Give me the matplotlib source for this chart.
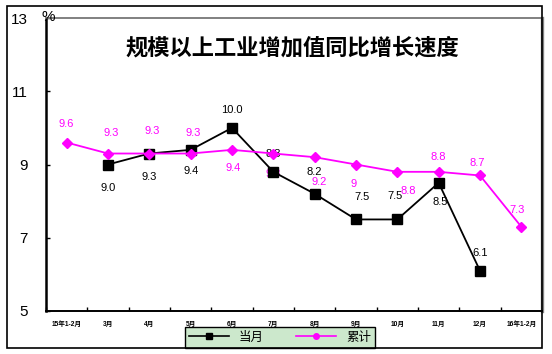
import matplotlib
matplotlib.use('Agg')
import matplotlib.pyplot as plt
import numpy as np
from matplotlib.lines import Line2D
from matplotlib.patches import Rectangle

plt.rcParams['font.family'] = ['Liberation Sans', 'Noto Sans CJK SC', 'DejaVu Sans']

months = ['15年1-2月', '3月', '4月', '5月', '6月', '7月', '8月', '9月',
          '10月', '11月', '12月', '16年1-2月']
dangyue = [np.nan, 9.0, 9.3, 9.4, 10.0, 8.8, 8.2, 7.5, 7.5, 8.5, 6.1, np.nan]
leiji = [9.6, 9.3, 9.3, 9.3, 9.4, 9.3, 9.2, 9.0, 8.8, 8.8, 8.7, 7.3]

# where each label sits relative to its point (offset points)
dy_off = [None, (0, -17), (0, -17), (0, -15), (0, 13), (0, 13), (0, 16),
          (4, 16), (-2, 17), (1, -14), (0, 13), None]
lj_off = [(0, 13), (2, 15), (2, 16), (2, 15), (1, -13), (0, -15), (3, -18),
          (-2, -14), (8, -14), (0, 11), (-2, 9), (-3, 12)]

fig = plt.figure(figsize=(5.52, 3.54), dpi=100)
ax = fig.add_axes([46/552, 1-311/354, (542-46)/552, (311-18)/354])

x = np.arange(len(months))
ax.plot(x, dangyue, color='black', lw=1.3, marker='s', ms=6.5, zorder=3)
ax.plot(x, leiji, color='#FF00FF', lw=1.3, marker='D', ms=5, zorder=4)

for i in range(len(months)):
    if dy_off[i] is not None:
        ax.annotate('{:.1f}'.format(dangyue[i]), (x[i], dangyue[i]), xytext=dy_off[i],
                    textcoords='offset points', ha='center', va='center',
                    fontsize=8, color='black', zorder=2)
    ax.annotate('{:g}'.format(leiji[i]), (x[i], leiji[i]), xytext=lj_off[i],
                textcoords='offset points', ha='center', va='center',
                fontsize=8, color='#FF00FF', zorder=2)

ax.set_xlim(-0.5, len(months)-0.5)
ax.set_ylim(5, 13)
ax.set_yticks([5, 7, 9, 11, 13])
ax.tick_params(axis='y', direction='in', length=3, width=1, pad=13, labelsize=11)
ax.set_xticks(np.arange(-0.5, len(months), 1.0))
ax.set_xticklabels([])
ax.set_xticks(x, minor=True)
ax.set_xticklabels(months, minor=True, fontsize=4.8, fontweight='bold')
ax.tick_params(axis='x', which='major', direction='in', length=3, width=1)
ax.tick_params(axis='x', which='minor', length=0, pad=7)

ax.spines['left'].set_linewidth(1.8)
ax.spines['bottom'].set_linewidth(1.4)
ax.spines['top'].set_color('#808080')
ax.spines['top'].set_linewidth(1.4)
ax.spines['right'].set_color('#808080')
ax.spines['right'].set_linewidth(2.4)

fig.text(48/552, 1-17/354, '%', fontsize=11, ha='center', va='center')
fig.text(292/552, 1-48/354, '规模以上工业增加值同比增长速度', fontsize=16,
         fontweight='bold', ha='center', va='center',
         family=['Noto Sans CJK SC', 'DejaVu Sans'])

handles = [Line2D([], [], color='black', lw=1.2, marker='s', ms=5),
           Line2D([], [], color='#FF00FF', lw=1.2, marker='o', ms=4)]
leg = fig.legend(handles, ['当月', '累计'], ncol=2, loc='upper left',
                 bbox_to_anchor=(185/552, 1-327/354), borderaxespad=0,
                 handlelength=3.2, columnspacing=2.6,
                 borderpad=0.3, fancybox=False, framealpha=1,
                 prop={'family': ['Noto Sans CJK SC', 'DejaVu Sans'], 'size': 9})
leg.get_frame().set_facecolor('#CCE8CC')
leg.get_frame().set_edgecolor('black')
leg.get_frame().set_linewidth(1.0)

fig.add_artist(Rectangle((7/552, 6/354), (542-7)/552, (348-6)/354,
                         transform=fig.transFigure, fill=True, facecolor='white',
                         edgecolor='none', zorder=-5))
fig.add_artist(Rectangle((7/552, 6/354), (542-7)/552, (348-6)/354,
                         transform=fig.transFigure, fill=False,
                         edgecolor='black', lw=1.2, zorder=10))

fig.savefig('out.png', dpi=100)
